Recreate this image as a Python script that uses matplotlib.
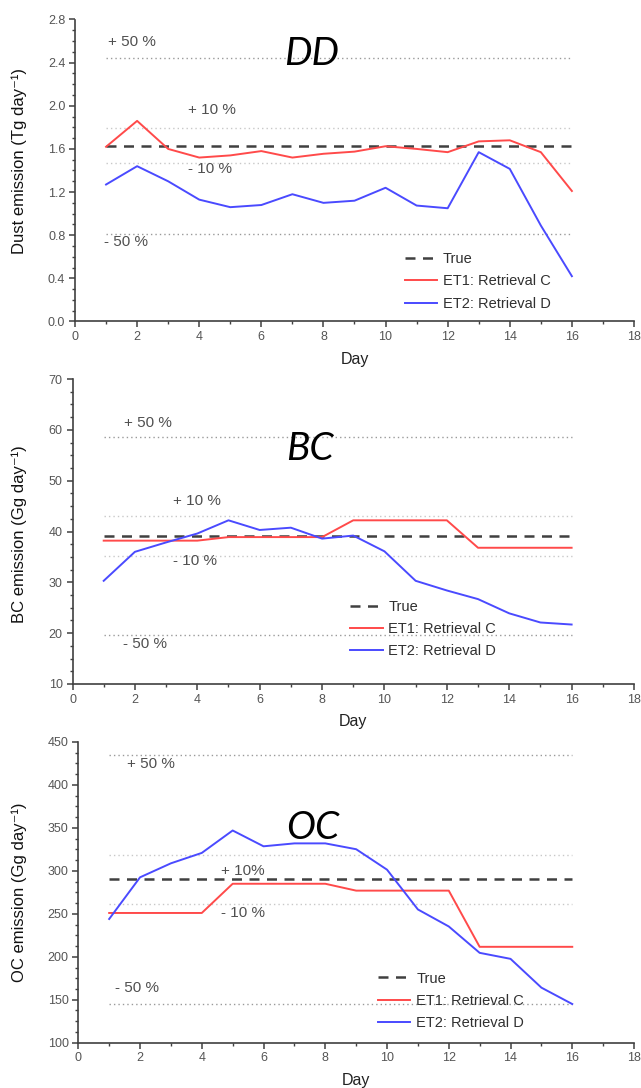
import matplotlib
matplotlib.use("Agg")
import matplotlib.pyplot as plt
from matplotlib.ticker import MultipleLocator, AutoMinorLocator

plt.rcParams['font.family'] = ['Liberation Sans', 'DejaVu Sans']

days = list(range(1, 17))

# DD (Tg/day)
dd_true = 1.63
dd_et1 = [1.62, 1.86, 1.60, 1.52, 1.54, 1.58, 1.52, 1.555, 1.575, 1.625, 1.60, 1.57, 1.67, 1.68, 1.57, 1.21]
dd_et2 = [1.27, 1.44, 1.30, 1.13, 1.06, 1.08, 1.18, 1.10, 1.12, 1.24, 1.075, 1.05, 1.57, 1.415, 0.89, 0.42]

# BC (Gg/day)
bc_true = 39.1
bc_et1 = [38.2, 38.2, 38.2, 38.2, 38.9, 38.9, 38.9, 38.9, 42.2, 42.2, 42.2, 42.2, 36.8, 36.8, 36.8, 36.8]
bc_et2 = [30.3, 36.0, 37.85, 39.6, 42.2, 40.3, 40.75, 38.6, 39.2, 36.1, 30.3, 28.4, 26.7, 23.9, 22.1, 21.7]

# OC (Gg/day)
oc_true = 290.0
oc_et1 = [251, 251, 251, 251, 285, 285, 285, 285, 277, 277, 277, 277, 211.6, 211.6, 211.6, 211.6]
oc_et2 = [244, 292.5, 308.8, 320.9, 347, 328.6, 332, 332, 325.2, 301.4, 255.1, 235.3, 204.6, 197.6, 164.1, 145]

panels = [
    dict(name="DD", true=dd_true, et1=dd_et1, et2=dd_et2,
         ylabel="Dust emission (Tg day\u207b\u00b9)", ylim=(0, 2.8), major=0.4, fmt="%.1f",
         rect=[75/641, 1-321.5/1088, 559/641, 302/1088],
         title_xy=(7.63, 0.885), ylab_y=0.53,
         ann=[("+ 50 %", 1.83, 2.595), ("+ 10 %", 4.41, 1.965), ("- 10 %", 4.35, 1.41), ("- 50 %", 1.64, 0.74)],
         leg=(0.59, 0.230), ylab_x=-0.086),
    dict(name="BC", true=bc_true, et1=bc_et1, et2=bc_et2,
         ylabel="BC emission (Gg day\u207b\u00b9)", ylim=(10, 70), major=10, fmt="%d",
         rect=[72.5/641, 1-684/1088, 561.5/641, 305/1088],
         title_xy=(7.62, 0.772), ylab_y=0.49,
         ann=[("+ 50 %", 2.43, 61.3), ("+ 10 %", 4.0, 46.0), ("- 10 %", 3.94, 34.2), ("- 50 %", 2.31, 17.9)],
         leg=(0.495, 0.2766), ylab_x=-0.081),
    dict(name="OC", true=oc_true, et1=oc_et1, et2=oc_et2,
         ylabel="OC emission (Gg day\u207b\u00b9)", ylim=(100, 450), major=50, fmt="%d",
         rect=[78.3/641, 1-1042.7/1088, 555.7/641, 300.7/1088],
         title_xy=(7.6, 0.715), ylab_y=0.50,
         ann=[("+ 50 %", 2.36, 424.4), ("+ 10%", 5.34, 300), ("- 10 %", 5.34, 251), ("- 50 %", 1.91, 164)],
         leg=(0.54, 0.2367), ylab_x=-0.092),
]

fig = plt.figure(figsize=(6.41, 10.88), dpi=100)

red = "#ff4a4a"
blue = "#4a4aff"
gray_txt = "#505050"

for p in panels:
    ax = fig.add_axes(p["rect"])
    t = p["true"]
    ax.hlines([1.5 * t, 0.5 * t], 1, 16, colors="#9a9a9a", linestyles=(0, (1, 2.2)), lw=1.0)
    ax.hlines([1.1 * t, 0.9 * t], 1, 16, colors="#c8c8c8", linestyles=(0, (1, 2.2)), lw=1.0)
    ax.plot([1, 16], [t, t], color="#404040", lw=1.8, dashes=(4, 3), label="True")
    ax.plot(days, p["et1"], color=red, lw=1.4, label="ET1: Retrieval C")
    ax.plot(days, p["et2"], color=blue, lw=1.4, label="ET2: Retrieval D")

    for txt, x, y in p["ann"]:
        ax.text(x, y, txt, ha="center", va="center", fontsize=11, color=gray_txt)

    ax.text(p["title_xy"][0], p["title_xy"][1], p["name"], transform=ax.get_xaxis_transform(),
            ha="center", va="center", fontsize=28, style="italic", family=["Lato", "DejaVu Sans"],
            color="black")

    ax.set_xlim(0, 18)
    ax.set_ylim(*p["ylim"])
    ax.xaxis.set_major_locator(MultipleLocator(2))
    ax.xaxis.set_minor_locator(AutoMinorLocator(2))
    ax.yaxis.set_major_locator(MultipleLocator(p["major"]))
    ax.yaxis.set_minor_locator(AutoMinorLocator(4))
    ax.yaxis.set_major_formatter(matplotlib.ticker.FormatStrFormatter(p["fmt"]))

    for s in ["top", "right"]:
        ax.spines[s].set_visible(False)
    for s in ["left", "bottom"]:
        ax.spines[s].set_color("#404040")
        ax.spines[s].set_linewidth(1.2)
    ax.tick_params(which="major", direction="out", length=4, width=1.1, color="#404040",
                   labelsize=9, labelcolor="#555555", pad=3)
    ax.tick_params(which="minor", direction="out", length=2.5, width=1.0, color="#404040")

    ax.set_xlabel("Day", fontsize=11.5, color="#222222", labelpad=6)
    ax.set_ylabel(p["ylabel"], fontsize=12, color="#111111")
    ax.yaxis.set_label_coords(p["ylab_x"], p["ylab_y"])

    ax.legend(loc="upper left", bbox_to_anchor=p["leg"], frameon=False, fontsize=10.5,
              handlelength=2.2, handletextpad=0.4, labelspacing=0.57, borderpad=0,
              borderaxespad=0, labelcolor="#303030")

fig.savefig("out.png", dpi=100)
